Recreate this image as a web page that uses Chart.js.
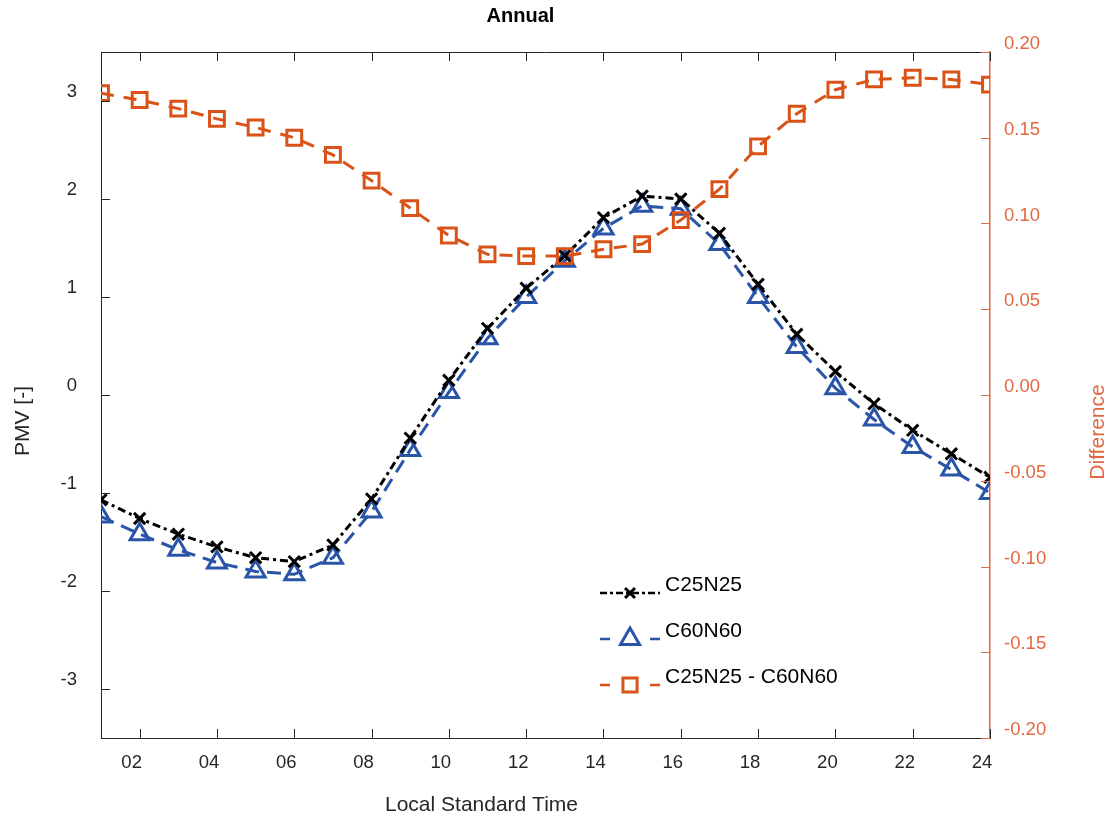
<!DOCTYPE html>
<html>
<head>
<meta charset="utf-8">
<script src="https://cdn.jsdelivr.net/npm/chart.js@4/dist/chart.umd.min.js"></script>
<style>
  html, body { margin: 0; padding: 0; background: #fff; }
  #wrap { width: 1112px; height: 822px; }
</style>
</head>
<body>
<div id="wrap"><canvas id="chart-annual"></canvas></div>
<script>
// hourly values, local standard time 01..24
const hours = [1, 2, 3, 4, 5, 6, 7, 8, 9, 10, 11, 12, 13, 14, 15, 16, 17, 18, 19, 20, 21, 22, 23, 24];
const pmv_c25n25 = [-1.07, -1.26, -1.42, -1.55, -1.66, -1.70, -1.53, -1.06, -0.44, 0.15, 0.68, 1.09,
  1.42, 1.81, 2.03, 2.00, 1.65, 1.13, 0.62, 0.24, -0.09, -0.36, -0.60, -0.84];
const pmv_c60n60 = [-1.24, -1.42, -1.58, -1.71, -1.80, -1.83, -1.66, -1.19, -0.56, 0.03, 0.58, 1.00,
  1.37, 1.70, 1.93, 1.90, 1.54, 1.00, 0.49, 0.07, -0.25, -0.53, -0.76, -1.00];
const selisih = [0.176, 0.172, 0.167, 0.161, 0.156, 0.150, 0.140, 0.125, 0.109, 0.093, 0.082, 0.081,
  0.081, 0.085, 0.088, 0.102, 0.120, 0.145, 0.164, 0.178, 0.184, 0.185, 0.184, 0.181];

const x_ticks = [2, 4, 6, 8, 10, 12, 14, 16, 18, 20, 22, 24];
const pmv_ticks = [-3, -2, -1, 0, 1, 2, 3];
const diff_ticks = [-0.2, -0.15, -0.1, -0.05, 0, 0.05, 0.1, 0.15, 0.2];

const FONT = "'Liberation Sans', Arial, Helvetica, sans-serif";
const INK = "#262626";
const ORANGE = "#D95319";
const ORANGE_AX = "#E2683F";
const BLUE = "#2A54A8";

function toPoints(ys) {
  return hours.map((h, i) => ({ x: h, y: ys[i] }));
}

// MATLAB style ticks pointing into the plot, plus the top box line
const innerTicks = {
  id: "innerTicks",
  afterDraw(chart) {
    const { ctx, chartArea: a, scales } = chart;
    const len = 9;
    ctx.save();
    ctx.lineWidth = 1;
    ctx.strokeStyle = INK;
    ctx.beginPath();
    ctx.moveTo(a.left, a.top + 0.5);
    ctx.lineTo(a.right, a.top + 0.5);
    x_ticks.forEach((v) => {
      const px = Math.round(scales.x.getPixelForValue(v)) + 0.5;
      ctx.moveTo(px, a.bottom);
      ctx.lineTo(px, a.bottom - len);
      ctx.moveTo(px, a.top);
      ctx.lineTo(px, a.top + len);
    });
    pmv_ticks.forEach((v) => {
      const py = Math.round(scales.y.getPixelForValue(v)) + 0.5;
      ctx.moveTo(a.left, py);
      ctx.lineTo(a.left + len, py);
    });
    ctx.stroke();
    ctx.strokeStyle = ORANGE_AX;
    ctx.beginPath();
    diff_ticks.forEach((v) => {
      const py = Math.round(scales.y2.getPixelForValue(v)) + 0.5;
      ctx.moveTo(a.right, py);
      ctx.lineTo(a.right - len, py);
    });
    ctx.stroke();
    ctx.restore();
  },
};

// title, axis titles
const judulSumbu = {
  id: "judulSumbu",
  afterDraw(chart) {
    const { ctx, chartArea: a } = chart;
    const midX = (a.left + a.right) / 2;
    ctx.save();
    ctx.textAlign = "center";
    ctx.textBaseline = "middle";
    ctx.fillStyle = "#000";
    ctx.font = "bold 20px " + FONT;
    ctx.fillText("Annual", midX - 25, 16);
    ctx.fillStyle = INK;
    ctx.font = "21px " + FONT;
    ctx.fillText("Local Standard Time", midX - 64, 805);
    ctx.save();
    ctx.translate(23, 421);
    ctx.rotate(-Math.PI / 2);
    ctx.fillText("PMV [-]", 0, 0);
    ctx.restore();
    ctx.fillStyle = ORANGE_AX;
    ctx.translate(1098, 432);
    ctx.rotate(-Math.PI / 2);
    ctx.fillText("Difference", 0, 0);
    ctx.restore();
  },
};

// legend drawn inside the plot area
const legendaDalam = {
  id: "legendaDalam",
  afterDraw(chart) {
    const { ctx, chartArea: a } = chart;
    const x0 = a.left + 499;
    const rows = [593, 639, 685];
    ctx.save();
    chart.data.datasets.forEach((ds, i) => {
      const y = rows[i];
      ctx.strokeStyle = ds.borderColor;
      ctx.lineWidth = 2.5;
      ctx.setLineDash(ds.legendDash);
      ctx.beginPath();
      ctx.moveTo(x0, y);
      ctx.lineTo(x0 + 60, y);
      ctx.stroke();
      ctx.setLineDash([]);
      ctx.fillStyle = "#fff";
      ctx.lineWidth = ds.pointBorderWidth;
      Chart.helpers.drawPoint(ctx, {
        pointStyle: ds.pointStyle,
        radius: ds.legendRadius,
        rotation: 0,
        borderWidth: ds.pointBorderWidth,
      }, x0 + 30, y);
      ctx.fillStyle = "#000";
      ctx.font = "21px " + FONT;
      ctx.textAlign = "left";
      ctx.textBaseline = "middle";
      ctx.fillText(ds.label, x0 + 65, y - 8);
    });
    ctx.restore();
  },
};

const dataChart = {
  datasets: [
    {
      label: "C25N25",
      data: toPoints(pmv_c25n25),
      yAxisID: "y",
      borderColor: "#000",
      borderWidth: 3,
      borderDash: [8, 4, 3, 4],
      legendDash: [7, 3, 3, 3],
      pointStyle: "crossRot",
      pointRadius: 8,
      legendRadius: 7,
      pointBorderWidth: 3,
      pointBorderColor: "#000",
      pointBackgroundColor: "rgba(0,0,0,0)",
      tension: 0,
      order: 1,
    },
    {
      label: "C60N60",
      data: toPoints(pmv_c60n60),
      yAxisID: "y",
      borderColor: BLUE,
      borderWidth: 3,
      borderDash: [14, 8],
      legendDash: [10, 40],
      pointStyle: "triangle",
      pointRadius: 11,
      legendRadius: 11,
      pointBorderWidth: 3,
      pointBorderColor: BLUE,
      pointBackgroundColor: "rgba(0,0,0,0)",
      tension: 0,
      order: 2,
    },
    {
      label: "C25N25 - C60N60",
      data: toPoints(selisih),
      yAxisID: "y2",
      borderColor: ORANGE,
      borderWidth: 3,
      borderDash: [13, 10],
      legendDash: [10, 40],
      pointStyle: "rect",
      pointRadius: 10.5,
      legendRadius: 10,
      pointBorderWidth: 3,
      pointBorderColor: ORANGE,
      pointBackgroundColor: "rgba(0,0,0,0)",
      tension: 0,
      order: 0,
    },
  ],
};

const tickFont = { family: FONT, size: 18.5 };

const ctx = document.getElementById("chart-annual");
const chart = new Chart(ctx, {
  type: "line",
  data: dataChart,
  plugins: [innerTicks, judulSumbu, legendaDalam],
  options: {
    responsive: true,
    maintainAspectRatio: false,
    animation: false,
    layout: { padding: { top: 52, left: 0, right: 0, bottom: 0 } },
    plugins: {
      legend: { display: false },
      tooltip: { enabled: false },
    },
    scales: {
      x: {
        type: "linear",
        min: 1,
        max: 24,
        afterBuildTicks: (scale) => {
          scale.ticks = x_ticks.map((v) => ({ value: v }));
        },
        afterFit: (scale) => {
          scale.height = 84;
        },
        grid: { display: false, drawTicks: false },
        border: { display: true, color: INK, width: 1 },
        ticks: {
          color: INK,
          font: tickFont,
          padding: 14,
          labelOffset: -8,
          maxRotation: 0,
          autoSkip: false,
          callback: (v) => String(v).padStart(2, "0"),
        },
      },
      y: {
        position: "left",
        min: -3.5,
        max: 3.5,
        afterBuildTicks: (scale) => {
          scale.ticks = pmv_ticks.map((v) => ({ value: v }));
        },
        afterFit: (scale) => {
          scale.width = 101;
        },
        grid: { display: false, drawTicks: false },
        border: { display: true, color: INK, width: 1 },
        ticks: {
          color: INK,
          font: tickFont,
          padding: 24,
          labelOffset: -9,
          callback: (v) => String(v),
        },
      },
      y2: {
        position: "right",
        min: -0.2,
        max: 0.2,
        afterBuildTicks: (scale) => {
          scale.ticks = diff_ticks.map((v) => ({ value: v }));
        },
        afterFit: (scale) => {
          scale.width = 122;
        },
        grid: { display: false, drawTicks: false },
        border: { display: true, color: ORANGE_AX, width: 1.5 },
        ticks: {
          color: ORANGE_AX,
          font: tickFont,
          padding: 14,
          labelOffset: -8,
          crossAlign: "near",
          callback: (v) => Number(v).toFixed(2),
        },
      },
    },
  },
});
</script>
</body>
</html>
